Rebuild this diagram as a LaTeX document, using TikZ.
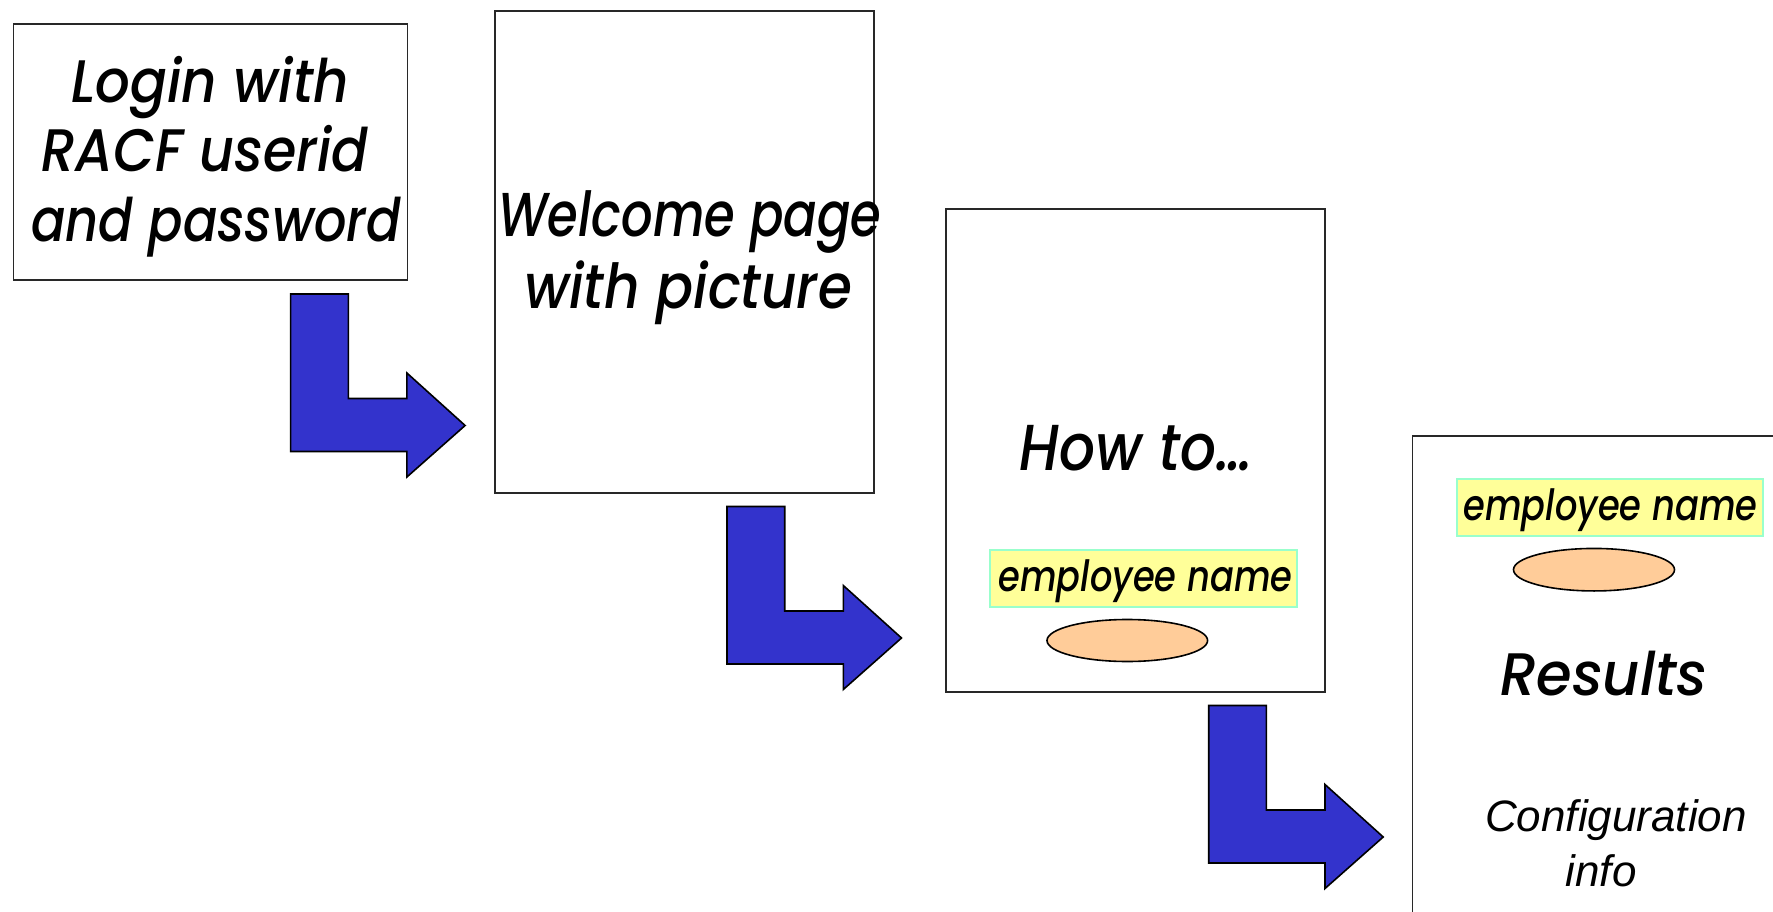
\documentclass[tikz,border=0pt]{standalone}
\usepackage{graphicx}
\usepackage{fontspec}
\newfontfamily\handfont{Poppins Medium Italic}
\newfontfamily\plainsans{Liberation Sans}
\usetikzlibrary{shapes.geometric}

\definecolor{arrowblue}{RGB}{51,51,204}
\definecolor{fieldfill}{RGB}{255,255,153}
\definecolor{fieldedge}{RGB}{153,255,204}
\definecolor{buttonfill}{RGB}{255,204,153}
\definecolor{edgegray}{RGB}{40,40,40}

% narrow a line of text horizontally
\newcommand{\narrowed}[2]{\scalebox{#1}[1]{#2}}

\tikzset{
  pagebox/.style={draw=edgegray, line width=1.8pt, fill=white, anchor=north west, inner sep=0pt},
  fieldbox/.style={draw=fieldedge, line width=1.8pt, fill=fieldfill, anchor=north west, inner sep=0pt},
  button/.style={ellipse, draw=black, line width=1.6pt, fill=buttonfill, inner sep=0pt},
  hand/.style={inner sep=0pt, anchor=base, font=\handfont\fontsize{#1}{#1}\selectfont},
  hand/.default=60pt,
  plain/.style={inner sep=0pt, anchor=base, font=\plainsans\itshape\fontsize{44pt}{44pt}\selectfont},
  blockarrow/.style={draw=black, line width=1.6pt, fill=arrowblue, line join=miter},
  bentarrow/.pic={
    \path[blockarrow] (0,0) -- (57.7,0) -- (57.7,104.5) -- (116.3,104.5)
      -- (116.3,79) -- (174.5,131.5) -- (116.3,183) -- (116.3,157.5)
      -- (0,157.5) -- cycle;
  }
}

\begin{document}
\begin{tikzpicture}[x=1pt, y=-1pt]
  \useasboundingbox (0,0) rectangle (1773,912);
  \clip (0,0) rectangle (1773,912);

  % step 1: login
  \node[pagebox, minimum width=394pt, minimum height=256pt] (login) at (12.5,23.5) {};
  \node[hand] (login1) at (210,103) {\narrowed{0.91}{Login with}};
  \node[hand] (login2) at (205,171.5) {\narrowed{0.90}{RACF userid}};
  \node[hand] (login3) at (216,242) {\narrowed{0.85}{and password}};

  % step 2: welcome page
  \node[pagebox, minimum width=379pt, minimum height=482pt] (welcome) at (494,10) {};
  \node[hand=62pt] (welcome1) at (690,237) {\narrowed{0.80}{Welcome page}};
  \node[hand=62pt] (welcome2) at (688,308) {\narrowed{0.885}{with picture}};

  % step 3: how to
  \node[pagebox, minimum width=379pt, minimum height=483pt] (howto) at (945,208) {};
  \node[hand=65pt] (howtotext) at (1136,470.7) {\narrowed{0.87}{How to\dots}};
  \node[fieldbox, minimum width=307pt, minimum height=56.5pt] (field3) at (989,549.3) {};
  \node[hand=43pt] (field3text) at (1145.5,591.7) {\narrowed{0.82}{employee name}};
  \node[button, minimum width=160.6pt, minimum height=42pt] (button3) at (1127.3,640.5) {};

  % step 4: results
  \node[pagebox, minimum width=379pt, minimum height=483pt] (results) at (1411.5,435) {};
  \node[fieldbox, minimum width=306.5pt, minimum height=57pt] (field4) at (1455.7,477.8) {};
  \node[hand=43pt] (field4text) at (1610.5,520) {\narrowed{0.82}{employee name}};
  \node[button, minimum width=161pt, minimum height=42.5pt] (button4) at (1594,569.7) {};
  \node[hand=60pt] (resultstext) at (1604,695) {\narrowed{0.96}{Results}};
  \node[plain] (config1) at (1616,831.7) {Configuration};
  \node[plain] (config2) at (1601,886.7) {info};

  % transitions between steps
  \pic at (290.6,294) {bentarrow};
  \pic at (727,506.5) {bentarrow};
  \pic at (1208.7,705.5) {bentarrow};
\end{tikzpicture}
\end{document}
